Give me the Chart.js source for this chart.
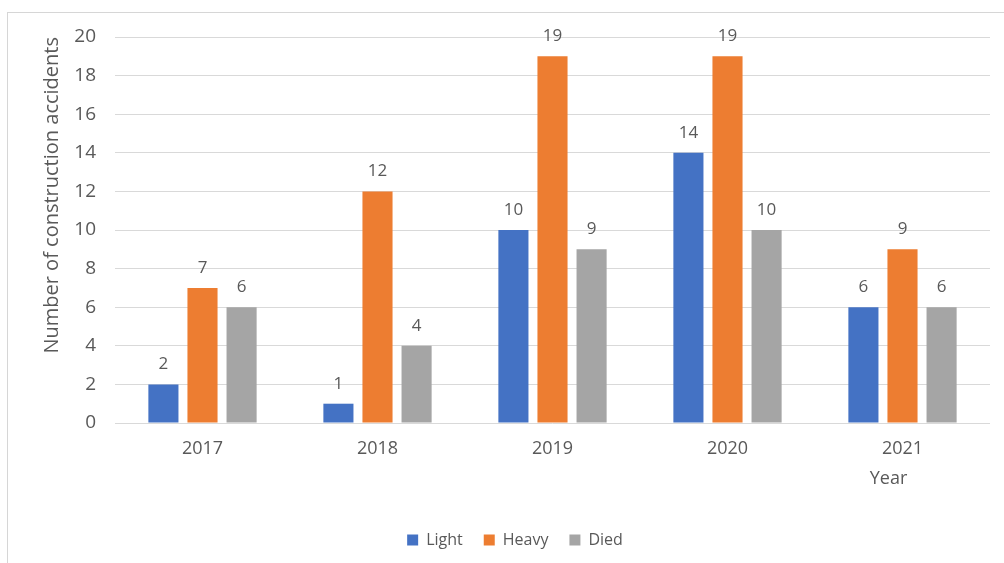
<!DOCTYPE html>
<html>
<head>
<meta charset="utf-8">
<script src="https://cdn.jsdelivr.net/npm/chart.js@4/dist/chart.umd.min.js"></script>
<style>
  html, body { margin: 0; padding: 0; background: #fff; overflow: hidden; }
  #wrap { position: relative; width: 1004px; height: 563px; }
  #frame { position: absolute; left: 7px; top: 12px; width: 1010px; height: 600px;
           border: 1px solid #d6d6d6; box-sizing: border-box; }
  canvas { position: absolute; left: 0; top: 0; }
</style>
</head>
<body>
<div id="wrap">
  <div id="frame"></div>
  <canvas id="accChart" width="1004" height="563"></canvas>
</div>
<script>
const years = ['2017', '2018', '2019', '2020', '2021'];
const light = [2, 1, 10, 14, 6];
const heavy = [7, 12, 19, 19, 9];
const died = [6, 4, 9, 10, 6];

const textColor = '#595959';
const fontFamily = '"Open Sans", sans-serif';

// value labels above each bar
const valueLabels = {
    id: 'valueLabels',
    afterDatasetsDraw(chart) {
        const ctx = chart.ctx;
        ctx.save();
        ctx.fillStyle = textColor;
        ctx.font = '17px ' + fontFamily;
        ctx.textAlign = 'center';
        ctx.textBaseline = 'middle';
        chart.data.datasets.forEach((ds, i) => {
            chart.getDatasetMeta(i).data.forEach((bar, j) => {
                ctx.fillText(ds.data[j], bar.x, bar.y - 20);
            });
        });
        ctx.restore();
    }
};

// "Year" caption under the last category
const yearCaption = {
    id: 'yearCaption',
    afterDraw(chart) {
        const ctx = chart.ctx;
        const x = chart.scales.x.getPixelForValue(years.length - 1) - 14;
        ctx.save();
        ctx.fillStyle = textColor;
        ctx.font = '18px ' + fontFamily;
        ctx.textAlign = 'center';
        ctx.textBaseline = 'middle';
        ctx.fillText('Year', x, chart.chartArea.bottom + 56);
        ctx.restore();
    }
};

const ctx = document.getElementById('accChart').getContext('2d');
const accChart = new Chart(ctx, {
    type: 'bar',
    data: {
        labels: years,
        datasets: [
            { label: 'Light', data: light, backgroundColor: '#4472C4' },
            { label: 'Heavy', data: heavy, backgroundColor: '#ED7D31' },
            { label: 'Died', data: died, backgroundColor: '#A5A5A5' }
        ]
    },
    options: {
        responsive: false,
        animation: false,
        devicePixelRatio: 1,
        barPercentage: 0.77,
        categoryPercentage: 0.67,
        layout: { padding: { top: 37, right: 14, left: 40, bottom: 5 } },
        scales: {
            x: {
                grid: { display: false },
                border: { display: false },
                ticks: { color: textColor, font: { family: fontFamily, size: 18 }, padding: 7 },
                afterFit: s => { s.height = 88; }
            },
            y: {
                min: 0,
                max: 20,
                grid: { color: '#d9d9d9', drawTicks: false },
                border: { display: false },
                ticks: { stepSize: 2, color: textColor, font: { family: fontFamily, size: 19 }, padding: 19 },
                title: {
                    display: true,
                    text: 'Number of construction accidents',
                    align: 'end',
                    color: textColor,
                    font: { family: fontFamily, size: 20 },
                    padding: { top: 0 }
                },
                afterFit: s => { s.width = 75; }
            }
        },
        plugins: {
            legend: {
                position: 'bottom',
                labels: {
                    color: textColor,
                    font: { family: fontFamily, size: 16 },
                    boxWidth: 11,
                    boxHeight: 11,
                    padding: 21
                }
            },
            tooltip: { enabled: false }
        }
    },
    plugins: [valueLabels, yearCaption]
});
</script>
</body>
</html>
